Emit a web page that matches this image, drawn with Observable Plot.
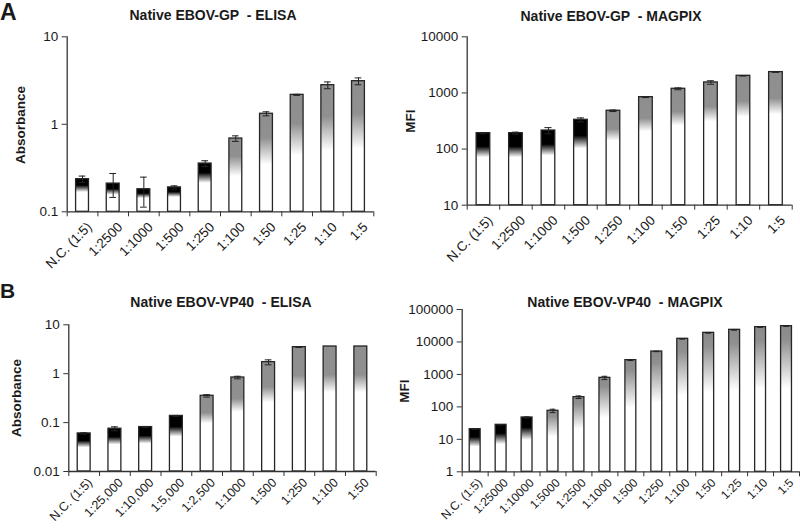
<!DOCTYPE html>
<html><head><meta charset="utf-8">
<script src="https://cdn.jsdelivr.net/npm/d3@7"></script>
<script src="https://cdn.jsdelivr.net/npm/@observablehq/plot@0.6"></script>
<style>
body{margin:0;background:#fff;}
#wrap{position:relative;width:800px;height:529px;font-family:"Liberation Sans",Arial,sans-serif;color:#1a1a1a;overflow:hidden;}
.panel{position:absolute;}
#overlay{position:absolute;left:0;top:0;pointer-events:none;}
</style></head><body><div id="wrap"></div>
<script>
// ---------- data ----------
const gpElisaLabels = ["N.C. (1:5)","1:2500","1:1000","1:500","1:250","1:100","1:50","1:25","1:10","1:5"];
const gpElisaValues = [0.236,0.210,0.181,0.190,0.356,0.688,1.32,2.17,2.80,3.11];
const gpElisaErrors = [0.02,0.064,0.068,0.008,0.027,0.05,0.07,0.03,0.25,0.28];
const gpElisaNegCount = 5;
const gpElisaTicks = [0.1,1,10];

const gpMagpixLabels = ["N.C. (1:5)","1:2500","1:1000","1:500","1:250","1:100","1:50","1:25","1:10","1:5"];
const gpMagpixValues = [192,192,214,332,481,841,1185,1538,2020,2349];
const gpMagpixErrors = [5,8,27,27,15,15,45,110,20,20];
const gpMagpixNegCount = 4;
const gpMagpixTicks = [10,100,1000,10000];

const vpElisaLabels = ["N.C. (1:5)","1:25,000","1:10,000","1:5,000","1:2,500","1:1000","1:500","1:250","1:100","1:50"];
const vpElisaValues = [0.060,0.075,0.081,0.137,0.353,0.836,1.72,3.49,3.6,3.6];
const vpElisaErrors = [0.002,0.007,0.002,0.003,0.02,0.05,0.2,0.05,0,0];
const vpElisaNegCount = 4;
const vpElisaTicks = [0.01,0.1,1,10];

const vpMagpixLabels = ["N.C. (1:5)","1:25000","1:10000","1:5000","1:2500","1:1000","1:500","1:250","1:100","1:50","1:25","1:10","1:5"];
const vpMagpixValues = [20.6,28.0,47.1,75.7,199,785,2754,5085,12500,19100,23650,28600,30700];
const vpMagpixErrors = [0.5,0.5,2,9,18,90,80,60,300,500,600,300,300];
const vpMagpixNegCount = 3;
const vpMagpixTicks = [1,10,100,1000,10000,100000];

// ---------- helpers ----------
const ns = "http://www.w3.org/2000/svg";
function gradDefs(id, blackStops, grayStops) {
  return () => {
    const defs = document.createElementNS(ns, "defs");
    const mk = (gid, stops) => {
      const g = document.createElementNS(ns, "linearGradient");
      g.setAttribute("id", gid);
      g.setAttribute("x1","0"); g.setAttribute("y1","0"); g.setAttribute("x2","0"); g.setAttribute("y2","1");
      for (const [o,c] of stops) {
        const s = document.createElementNS(ns,"stop");
        s.setAttribute("offset", o); s.setAttribute("stop-color", c);
        g.appendChild(s);
      }
      defs.appendChild(g);
    };
    mk(id + "-k", blackStops);
    mk(id + "-g", grayStops);
    return defs;
  };
}

function panel(cfg) {
  const {id, labels, values, errors, neg, ticks, left, top, width, height, m, grayStops, blackStops, lf, ldx, ldy} = cfg;
  const n = labels.length;
  const domain = [ticks[0], ticks[ticks.length-1]];
  const data = labels.map((label,i)=>({i, label, v: values[i], e: errors[i], neg: i < neg}));
  const hw = 0.21, cap = 0.11;
  const errs = data.filter(d => d.e > 0);
  const boundaries = d3.range(n+1).map(i => i - 0.5);
  const plot = Plot.plot({
    width, height,
    marginLeft: m[0], marginTop: m[1], marginRight: m[2], marginBottom: m[3],
    x: {domain: [-0.5, n-0.5]},
    y: {type: "log", domain},
    style: {fontFamily: '"Liberation Sans", Arial, sans-serif', fontSize: "13.5px", color: "#1a1a1a", background: "transparent", overflow: "visible"},
    marks: [
      gradDefs(id, blackStops, grayStops),
      Plot.rectY(data.filter(d => d.neg), {x1: d => d.i - hw, x2: d => d.i + hw, y1: domain[0], y2: "v", fill: `url(#${id}-k)`, stroke: "#262626", strokeWidth: 1.3}),
      Plot.rectY(data.filter(d => !d.neg), {x1: d => d.i - hw, x2: d => d.i + hw, y1: domain[0], y2: "v", fill: `url(#${id}-g)`, stroke: "#262626", strokeWidth: 1.3}),
      Plot.ruleX(errs, {x: "i", y1: d => d.v - d.e, y2: d => d.v + d.e, stroke: "#222", strokeWidth: 1}),
      Plot.ruleY(errs, {y: d => d.v + d.e, x1: d => d.i - cap, x2: d => d.i + cap, stroke: "#222", strokeWidth: 1}),
      Plot.ruleY(errs, {y: d => d.v - d.e, x1: d => d.i - cap, x2: d => d.i + cap, stroke: "#222", strokeWidth: 1}),
      Plot.ruleX([-0.5], {stroke: "#333", strokeWidth: 1.3}),
      Plot.ruleY([domain[0]], {stroke: "#333", strokeWidth: 1.3}),
      Plot.axisY({ticks, tickFormat: d => String(d), tickSize: 5, tickPadding: 4, label: null, stroke: "#333", fontSize: 13.5}),
      Plot.axisX({ticks: boundaries, tickSize: 5, tickFormat: () => "", label: null, stroke: "#333"}),
      Plot.text(data, {x: "i", text: "label", frameAnchor: "bottom", rotate: -45, textAnchor: "end", lineAnchor: "middle", dy: ldy, dx: ldx, fontSize: lf})
    ]
  });
  const div = document.createElement("div");
  div.className = "panel";
  div.style.left = left + "px"; div.style.top = top + "px";
  div.appendChild(plot);
  document.getElementById("wrap").appendChild(div);
}

const blk = [[0,"#000"],[0.2,"#000"],[0.41,"#fff"],[1,"#fff"]];
panel({id:"p1", labels: gpElisaLabels, values: gpElisaValues, errors: gpElisaErrors, neg: gpElisaNegCount, ticks: gpElisaTicks,
  left:0, top:0, width:400, height:265, m:[66.7,36.3,26.7,53.7], blackStops: blk, lf: 13.5, ldx: 7, ldy: 13,
  grayStops: [[0,"#8e8e8e"],[0.25,"#909090"],[0.52,"#fff"],[1,"#fff"]]});
panel({id:"p2", labels: gpMagpixLabels, values: gpMagpixValues, errors: gpMagpixErrors, neg: gpMagpixNegCount, ticks: gpMagpixTicks,
  left:400, top:0, width:400, height:265, m:[66.7,36.3,8.3,60.3], blackStops: [[0,"#000"],[0.19,"#000"],[0.34,"#fff"],[1,"#fff"]], lf: 13.5, ldx: 7, ldy: 13,
  grayStops: [[0,"#8e8e8e"],[0.2,"#909090"],[0.32,"#fff"],[1,"#fff"]]});
panel({id:"p3", labels: vpElisaLabels, values: vpElisaValues, errors: vpElisaErrors, neg: vpElisaNegCount, ticks: vpElisaTicks,
  left:0, top:265, width:400, height:264, m:[68.3,59.3,24.3,58], blackStops: [[0,"#000"],[0.2,"#000"],[0.38,"#fff"],[1,"#fff"]], lf: 12.5, ldx: 6, ldy: 9,
  grayStops: [[0,"#8e8e8e"],[0.23,"#909090"],[0.37,"#fff"],[1,"#fff"]]});
panel({id:"p4", labels: vpMagpixLabels, values: vpMagpixValues, errors: vpMagpixErrors, neg: vpMagpixNegCount, ticks: vpMagpixTicks,
  left:400, top:265, width:400, height:264, m:[61.7,44,1,57.7], blackStops: [[0,"#000"],[0.19,"#000"],[0.42,"#fff"],[1,"#fff"]], lf: 12, ldx: 5, ldy: 9,
  grayStops: [[0,"#8a8a8a"],[0.1,"#909090"],[0.43,"#fff"],[1,"#fff"]]});

// ---------- titles & labels ----------
const ov = d3.select("#wrap").append("svg").attr("id","overlay").attr("width",800).attr("height",529)
  .style("font-family",'"Liberation Sans", Arial, sans-serif').style("fill","#1a1a1a");
const texts = [
  {t:"A", x:0, y:19.5, s:23, a:"start"},
  {t:"B", x:0, y:298.3, s:21, a:"start"},
  {t:"Native EBOV-GP  - ELISA", x:213, y:20, s:14, a:"middle"},
  {t:"Native EBOV-GP  - MAGPIX", x:611, y:20.5, s:14, a:"middle"},
  {t:"Native EBOV-VP40  - ELISA", x:221, y:307.3, s:14, a:"middle"},
  {t:"Native EBOV-VP40  - MAGPIX", x:625, y:306.7, s:14, a:"middle"}
];
for (const d of texts) {
  ov.append("text").attr("x", d.x).attr("y", d.y).attr("font-size", d.s).attr("font-weight","bold")
    .attr("text-anchor", d.a).style("white-space","pre").text(d.t);
}
const ylabs = [
  {t:"Absorbance", x:20, y:125},
  {t:"MFI", x:410, y:121},
  {t:"Absorbance", x:16, y:398},
  {t:"MFI", x:404, y:391}
];
for (const d of ylabs) {
  ov.append("text").attr("transform", `translate(${d.x},${d.y}) rotate(-90)`).attr("dy","0.35em")
    .attr("font-size", 13.5).attr("font-weight","bold").attr("text-anchor","middle").text(d.t);
}
</script></body></html>
